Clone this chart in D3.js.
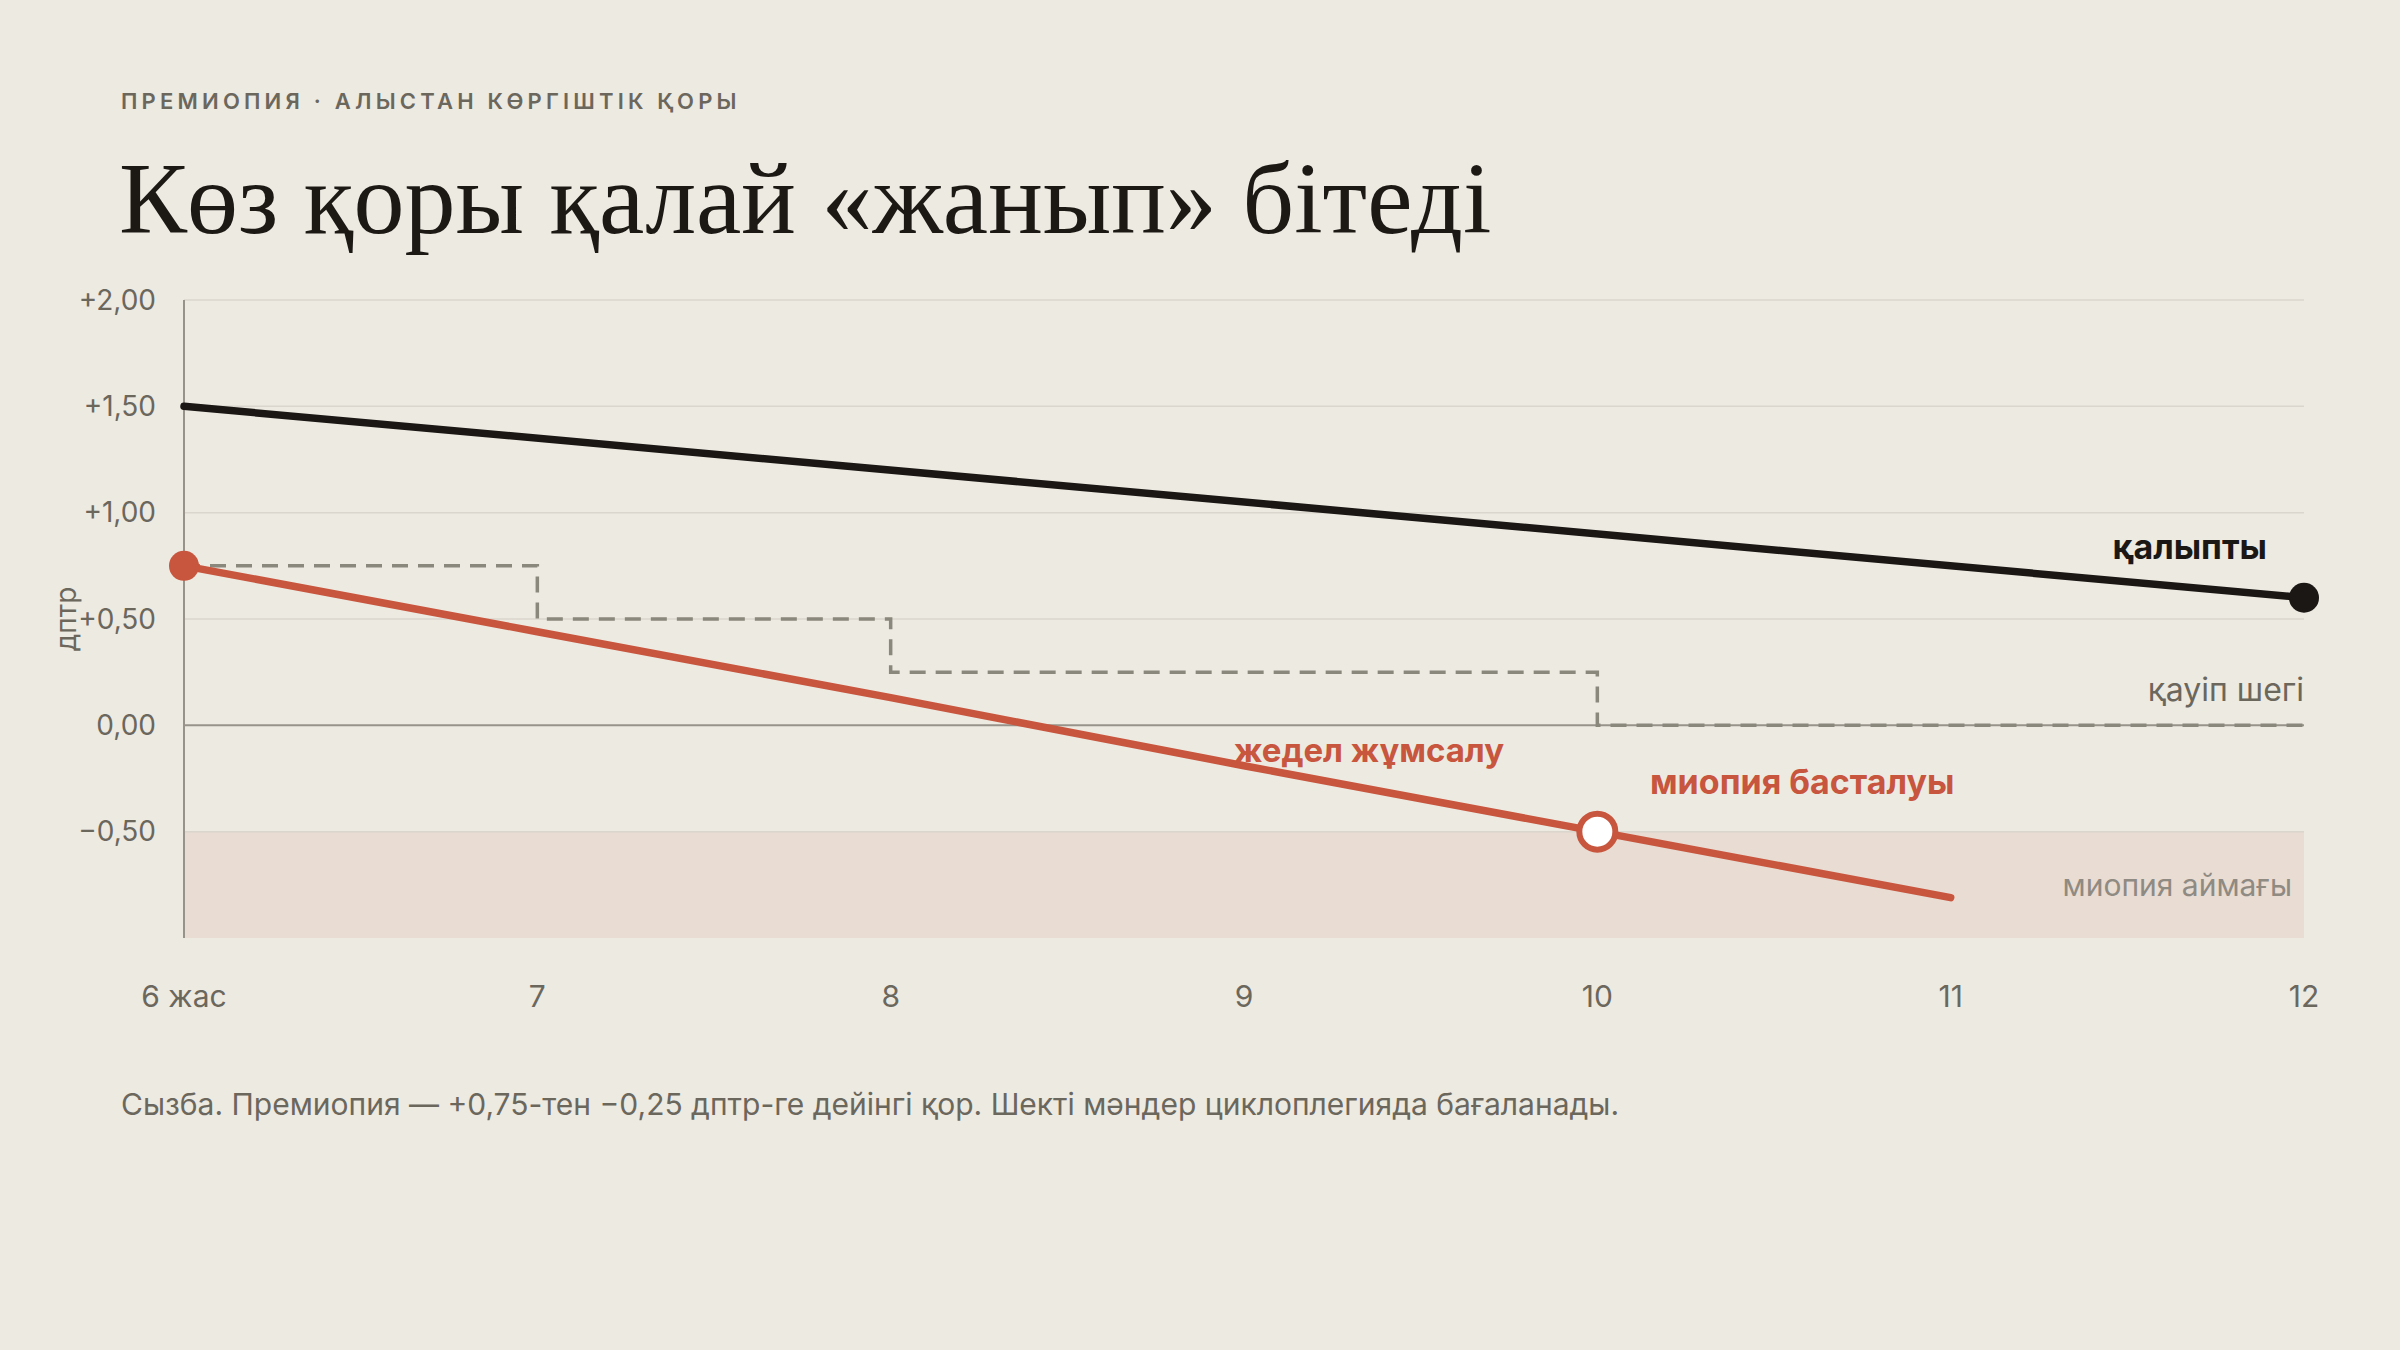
<!DOCTYPE html>
<html>
<head>
<meta charset="utf-8">
<script src="https://cdn.jsdelivr.net/npm/d3@7"></script>
<style>
  html, body { margin: 0; padding: 0; background: #edeae2; }
  svg { display: block; }
</style>
</head>
<body>
<div id="chart"></div>
<script>
// Ages on the x axis
const ages = [6, 7, 8, 9, 10, 11, 12];
const ageLabels = ["6 жас", "7", "8", "9", "10", "11", "12"];

// Normal refraction line (age, dioptres)
const normalAges = [6, 12];
const normalValues = [1.5, 0.6];

// Fast depletion line
const fastAges = [6, 7, 8, 9, 10, 11];
const fastValues = [0.75, 0.44, 0.13, -0.19, -0.5, -0.81];

// Risk threshold (step after)
const riskAges = [6, 7, 8, 10, 12];
const riskValues = [0.75, 0.5, 0.25, 0.0, 0.0];

// Y ticks
const yTicks = [2, 1.5, 1, 0.5, 0, -0.5];
const yTickLabels = ["+2,00", "+1,50", "+1,00", "+0,50", "0,00", "\u22120,50"];

const W = 2400, H = 1350;
const margin = { top: 300, right: 96, bottom: 412, left: 184 };

const svg = d3.select("#chart").append("svg")
    .attr("width", W)
    .attr("height", H);

// Header texts
svg.append("text")
    .attr("x", 121).attr("y", 109)
    .attr("font-family", "Inter, 'Noto Sans', sans-serif")
    .attr("font-size", 22)
    .attr("font-weight", 600)
    .attr("letter-spacing", "4.2px")
    .attr("fill", "#6b675d")
    .text("ПРЕМИОПИЯ · АЛЫСТАН КӨРГІШТІК ҚОРЫ");

svg.append("text")
    .attr("x", 119).attr("y", 233)
    .attr("font-family", "'Liberation Serif', 'DejaVu Serif', serif")
    .attr("font-size", 102)
    .attr("fill", "#1c1915")
    .text("Көз қоры қалай «жанып» бітеді");

const x = d3.scaleLinear().domain([6, 12]).range([margin.left, W - margin.right]);
const y = d3.scaleLinear().domain([-1, 2]).range([H - margin.bottom, margin.top]);

const font = "Inter, 'Noto Sans', sans-serif";

// Myopia zone
svg.append("rect")
    .attr("x", x(6)).attr("y", y(-0.5))
    .attr("width", x(12) - x(6))
    .attr("height", y(-1) - y(-0.5))
    .attr("fill", "#e8dcd3");

// Grid
svg.append("g")
    .selectAll("line")
    .data(yTicks)
    .join("line")
    .attr("x1", x(6)).attr("x2", x(12))
    .attr("y1", d => y(d)).attr("y2", d => y(d))
    .attr("stroke", d => d === 0 ? "#97938a" : "#dad6cd")
    .attr("stroke-width", d => d === 0 ? 2 : 1.5);

// Y axis line
svg.append("line")
    .attr("x1", x(6)).attr("x2", x(6))
    .attr("y1", y(2)).attr("y2", y(-1))
    .attr("stroke", "#97938a")
    .attr("stroke-width", 2);

// Y tick labels
svg.append("g")
    .selectAll("text")
    .data(yTicks)
    .join("text")
    .attr("x", x(6) - 28)
    .attr("y", d => y(d))
    .attr("dy", "0.35em")
    .attr("text-anchor", "end")
    .attr("font-family", font)
    .attr("font-size", 28)
    .attr("fill", "#6b675d")
    .text((d, i) => yTickLabels[i]);

// Y axis title
svg.append("text")
    .attr("transform", `translate(76, ${(y(2) + y(-1)) / 2}) rotate(-90)`)
    .attr("text-anchor", "middle")
    .attr("font-family", font)
    .attr("font-size", 28)
    .attr("fill", "#6b675d")
    .text("дптр");

// X tick labels
svg.append("g")
    .selectAll("text")
    .data(ages)
    .join("text")
    .attr("x", d => x(d))
    .attr("y", 1007)
    .attr("text-anchor", "middle")
    .attr("font-family", font)
    .attr("font-size", 30)
    .attr("fill", "#6b675d")
    .text((d, i) => ageLabels[i]);

// Risk threshold step line
const riskData = riskAges.map((a, i) => [a, riskValues[i]]);
svg.append("path")
    .datum(riskData)
    .attr("d", d3.line().x(d => x(d[0])).y(d => y(d[1])).curve(d3.curveStepAfter))
    .attr("fill", "none")
    .attr("stroke", "#8a877c")
    .attr("stroke-width", 3.5)
    .attr("stroke-dasharray", "16 10");

// Normal line
const normalData = normalAges.map((a, i) => [a, normalValues[i]]);
svg.append("path")
    .datum(normalData)
    .attr("d", d3.line().x(d => x(d[0])).y(d => y(d[1])))
    .attr("fill", "none")
    .attr("stroke", "#1a1714")
    .attr("stroke-width", 7.5)
    .attr("stroke-linecap", "round");

svg.append("circle")
    .attr("cx", x(12)).attr("cy", y(0.6))
    .attr("r", 15)
    .attr("fill", "#1a1714");

// Fast depletion line
const fastData = fastAges.map((a, i) => [a, fastValues[i]]);
svg.append("path")
    .datum(fastData)
    .attr("d", d3.line().x(d => x(d[0])).y(d => y(d[1])))
    .attr("fill", "none")
    .attr("stroke", "#c8553d")
    .attr("stroke-width", 7.5)
    .attr("stroke-linecap", "round");

svg.append("circle")
    .attr("cx", x(6)).attr("cy", y(0.75))
    .attr("r", 15)
    .attr("fill", "#c8553d");

svg.append("circle")
    .attr("cx", x(10)).attr("cy", y(-0.5))
    .attr("r", 18)
    .attr("fill", "#ffffff")
    .attr("stroke", "#c8553d")
    .attr("stroke-width", 6);

// Annotations
const labels = [
    { text: "қалыпты", x: 2267, y: 559, anchor: "end", color: "#1a1714", weight: 700, size: 34 },
    { text: "қауіп шегі", x: x(12), y: 701, anchor: "end", color: "#6b675d", weight: 400, size: 32 },
    { text: "жедел жұмсалу", x: 1369, y: 762, anchor: "middle", color: "#c8553d", weight: 700, size: 33 },
    { text: "миопия басталуы", x: 1650, y: 794, anchor: "start", color: "#c8553d", weight: 700, size: 34 },
    { text: "миопия аймағы", x: 2292, y: 896, anchor: "end", color: "#8f8a82", weight: 400, size: 30 }
];

svg.append("g")
    .selectAll("text")
    .data(labels)
    .join("text")
    .attr("x", d => d.x)
    .attr("y", d => d.y)
    .attr("text-anchor", d => d.anchor)
    .attr("font-family", font)
    .attr("font-size", d => d.size)
    .attr("font-weight", d => d.weight)
    .attr("fill", d => d.color)
    .text(d => d.text);

// Caption
svg.append("text")
    .attr("x", 121).attr("y", 1115)
    .attr("font-family", font)
    .attr("font-size", 30)
    .attr("fill", "#6b675d")
    .text("Сызба. Премиопия — +0,75-тен −0,25 дптр-ге дейінгі қор. Шекті мәндер циклоплегияда бағаланады.");
</script>
</body>
</html>
